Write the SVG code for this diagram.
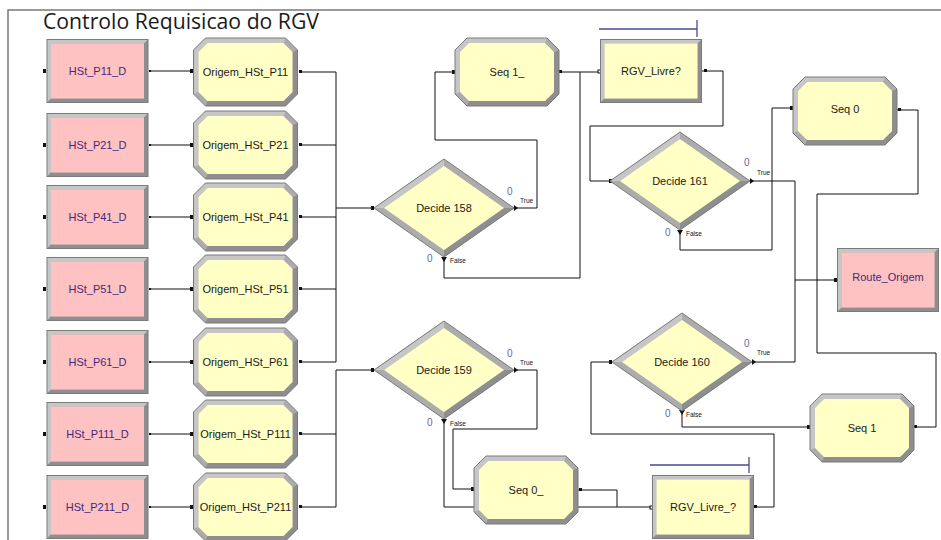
<svg xmlns="http://www.w3.org/2000/svg" xmlns:xlink="http://www.w3.org/1999/xlink" width="941" height="540" viewBox="0 0 941 540">
<style>
.mid{fill:#acacac}
.lite{fill:#c6c6c6}
.dark{fill:#8e8e8e}
.edge{fill:none;stroke:#7a7a7a;stroke-width:1}
.pink{fill:#ffc2c2}
.yel{fill:#ffffc6}
.lbl{font-family:"Liberation Sans",Arial,sans-serif;font-size:11px;text-anchor:middle;fill:#1a1a1a}
.plbl{font-family:"Liberation Sans",Arial,sans-serif;font-size:11px;text-anchor:middle;fill:#3f2a7a}
.cnt{font-family:"Liberation Sans",Arial,sans-serif;font-size:10px;fill:#6a6aa8}
.tf{font-family:"Liberation Sans",Arial,sans-serif;font-size:6.5px;fill:#111}
.wire{fill:none;stroke:#111;stroke-width:1}
.pt{fill:#111}
.hpt{fill:#fff;stroke:#111;stroke-width:1}
.bar{fill:none;stroke:#4a4a9a;stroke-width:1.3}
.frame{fill:none;stroke:#7a7a7a;stroke-width:1.5}
</style>
<defs>
<g id="octBev">
<polygon class="mid" points="-40,-34 40,-34 52,-22 52,22 40,34 -40,34 -52,22 -52,-22"/>
<polygon class="lite" points="-52,22 -52,-22 -40,-34 40,-34 38,-29 -38,-29 -47,-20 -47,20"/>
<polygon class="dark" points="52,-22 52,22 40,34 -40,34 -38,29 38,29 47,20 47,-20"/>
<polygon class="edge" points="-40,-34 40,-34 52,-22 52,22 40,34 -40,34 -52,22 -52,-22"/>
</g>
<polygon id="octI" points="-38,-29 38,-29 47,-20 47,20 38,29 -38,29 -47,20 -47,-20"/>
<g id="recBev">
<rect class="mid" x="-50.5" y="-31.5" width="101" height="63"/>
<polygon class="lite" points="-50.5,31.5 -50.5,-31.5 50.5,-31.5 46.5,-27.5 -46.5,-27.5 -46.5,27.5"/>
<polygon class="dark" points="50.5,-31.5 50.5,31.5 -50.5,31.5 -46.5,27.5 46.5,27.5 46.5,-27.5"/>
<rect class="edge" x="-50.5" y="-31.5" width="101" height="63"/>
</g>
<rect id="recI" x="-46.5" y="-27.5" width="93" height="55"/>
<g id="diaBev">
<polygon class="mid" points="0,-49 70,0 0,49 -70,0"/>
<polygon class="lite" points="-70,0 0,-49 0,-42 -60,0"/>
<polygon class="dark" points="70,0 0,49 0,42 60,0"/>
<polygon class="edge" points="0,-49 70,0 0,49 -70,0"/>
</g>
<polygon id="diaI" points="0,-42 60,0 0,42 -60,0"/>
</defs>
<rect x="0" y="0" width="941" height="540" fill="#ffffff"/>
<path class="frame" d="M8,540 V10 H941"/>
<text x="43" y="29" font-family="'Open Sans','Noto Sans',sans-serif" font-size="22" fill="#1a1a1a" textLength="276" lengthAdjust="spacingAndGlyphs">Controlo Requisicao do RGV</text>

<g id="connectors">
<path class="wire" d="M150,71H192 M150,145H192 M150,217H192 M150,289H192 M150,362H192 M150,434H192 M150,507H192"/>
<path class="wire" d="M299,72H336 M299,145H336 M299,217H336 M299,289H336 M299,362H336 M336,72V362 M336,208H373"/>
<path class="wire" d="M299,434H336 M299,507H336 M336,370V507 M336,370H373"/>
<path class="wire" d="M514,208H537V140H435V72H455"/>
<path class="wire" d="M444,257V278H580V72"/>
<path class="wire" d="M559,72H600"/>
<path class="wire" d="M702,71H723V126H590V181H610"/>
<path class="wire" d="M750,181H795V362H752 M795,280H836"/>
<path class="wire" d="M680,230V250H772V108H793"/>
<path class="wire" d="M897,110H918V194H817V353H936V427H914"/>
<path class="wire" d="M682,411V427H810"/>
<path class="wire" d="M612,362H591V434H774V507H753"/>
<path class="wire" d="M514,370H537V429H453V489H474"/>
<path class="wire" d="M444,419V507H652"/>
<path class="wire" d="M578,490H617V507"/>
<g class="pt">
<rect x="43" y="69" width="3" height="4"/><rect x="43" y="143" width="3" height="4"/><rect x="43" y="215" width="3" height="4"/><rect x="43" y="287" width="3" height="4"/><rect x="43" y="360" width="3" height="4"/><rect x="43" y="432" width="3" height="4"/><rect x="43" y="505" width="3" height="4"/>
<rect x="149" y="70" width="2" height="2"/><rect x="149" y="144" width="2" height="2"/><rect x="149" y="216" width="2" height="2"/><rect x="149" y="288" width="2" height="2"/><rect x="149" y="361" width="2" height="2"/><rect x="149" y="433" width="2" height="2"/><rect x="149" y="506" width="2" height="2"/>
<rect x="190" y="69" width="3" height="4"/><rect x="190" y="143" width="3" height="4"/><rect x="190" y="215" width="3" height="4"/><rect x="190" y="287" width="3" height="4"/><rect x="190" y="360" width="3" height="4"/><rect x="190" y="432" width="3" height="4"/><rect x="190" y="505" width="3" height="4"/>
<rect x="299" y="70" width="3" height="3"/><rect x="299" y="143" width="3" height="3"/><rect x="299" y="215" width="3" height="3"/><rect x="299" y="287" width="3" height="3"/><rect x="299" y="360" width="3" height="3"/><rect x="299" y="432" width="3" height="3"/><rect x="299" y="505" width="3" height="3"/>
<rect x="371" y="206" width="3" height="4"/><rect x="371" y="368" width="3" height="4"/>
<rect x="452" y="70" width="3" height="4"/><rect x="559" y="70" width="3" height="3"/>
<rect x="704" y="69" width="3" height="3"/>
<rect x="609" y="179" width="3" height="4"/><rect x="609" y="360" width="3" height="4"/>
<rect x="790" y="106" width="3" height="4"/><rect x="898" y="108" width="3" height="3"/>
<rect x="834" y="278" width="3" height="4"/>
<rect x="807" y="425" width="4" height="4"/><rect x="914" y="425" width="3" height="3"/>
<rect x="471" y="487" width="3" height="4"/><rect x="579" y="488" width="3" height="3"/>
<rect x="754" y="505" width="3" height="3"/>
<polygon points="514,205 518,208 514,211"/><polygon points="514,367 518,370 514,373"/>
<polygon points="750,178 754,181 750,184"/><polygon points="752,359 756,362 752,365"/>
<polygon points="441,257 447,257 444,262"/><polygon points="441,419 447,419 444,424"/>
<polygon points="677,230 683,230 680,235"/><polygon points="679,410 685,410 682,415"/>
</g>
<rect class="hpt" x="598" y="70" width="3" height="3"/>
<rect class="hpt" x="650" y="506" width="3" height="3"/>
</g>

<g id="HSt_P11_D" transform="translate(97.5,71)"><use href="#recBev"/><use href="#recI" class="pink"/><text class="plbl" y="4">HSt_P11_D</text></g>
<g id="HSt_P21_D" transform="translate(97.5,145)"><use href="#recBev"/><use href="#recI" class="pink"/><text class="plbl" y="4">HSt_P21_D</text></g>
<g id="HSt_P41_D" transform="translate(97.5,217)"><use href="#recBev"/><use href="#recI" class="pink"/><text class="plbl" y="4">HSt_P41_D</text></g>
<g id="HSt_P51_D" transform="translate(97.5,289)"><use href="#recBev"/><use href="#recI" class="pink"/><text class="plbl" y="4">HSt_P51_D</text></g>
<g id="HSt_P61_D" transform="translate(97.5,362)"><use href="#recBev"/><use href="#recI" class="pink"/><text class="plbl" y="4">HSt_P61_D</text></g>
<g id="HSt_P111_D" transform="translate(97.5,434)"><use href="#recBev"/><use href="#recI" class="pink"/><text class="plbl" y="4">HSt_P111_D</text></g>
<g id="HSt_P211_D" transform="translate(97.5,507)"><use href="#recBev"/><use href="#recI" class="pink"/><text class="plbl" y="4">HSt_P211_D</text></g>

<g id="Origem_HSt_P11" transform="translate(245.5,72)"><use href="#octBev"/><use href="#octI" class="yel"/><text class="lbl" y="4">Origem_HSt_P11</text></g>
<g id="Origem_HSt_P21" transform="translate(245.5,145)"><use href="#octBev"/><use href="#octI" class="yel"/><text class="lbl" y="4">Origem_HSt_P21</text></g>
<g id="Origem_HSt_P41" transform="translate(245.5,217)"><use href="#octBev"/><use href="#octI" class="yel"/><text class="lbl" y="4">Origem_HSt_P41</text></g>
<g id="Origem_HSt_P51" transform="translate(245.5,289)"><use href="#octBev"/><use href="#octI" class="yel"/><text class="lbl" y="4">Origem_HSt_P51</text></g>
<g id="Origem_HSt_P61" transform="translate(245.5,362)"><use href="#octBev"/><use href="#octI" class="yel"/><text class="lbl" y="4">Origem_HSt_P61</text></g>
<g id="Origem_HSt_P111" transform="translate(245.5,434)"><use href="#octBev"/><use href="#octI" class="yel"/><text class="lbl" y="4">Origem_HSt_P111</text></g>
<g id="Origem_HSt_P211" transform="translate(245.5,507)"><use href="#octBev"/><use href="#octI" class="yel"/><text class="lbl" y="4">Origem_HSt_P211</text></g>

<g id="Decide_158" transform="translate(444,208)"><use href="#diaBev"/><use href="#diaI" class="yel"/><text class="lbl" y="4">Decide 158</text>
<text class="cnt" x="63" y="-13">0</text><text class="tf" x="76" y="-5">True</text><text class="cnt" x="-17" y="54">0</text><text class="tf" x="6" y="55">False</text></g>
<g id="Decide_159" transform="translate(444,370)"><use href="#diaBev"/><use href="#diaI" class="yel"/><text class="lbl" y="4">Decide 159</text>
<text class="cnt" x="63" y="-13">0</text><text class="tf" x="76" y="-5">True</text><text class="cnt" x="-17" y="56">0</text><text class="tf" x="6" y="56">False</text></g>
<g id="Decide_161" transform="translate(680,181)"><use href="#diaBev"/><use href="#diaI" class="yel"/><text class="lbl" y="4">Decide 161</text>
<text class="cnt" x="64" y="-15">0</text><text class="tf" x="77" y="-6">True</text><text class="cnt" x="-15" y="55">0</text><text class="tf" x="6" y="55">False</text></g>
<g id="Decide_160" transform="translate(682,362)"><use href="#diaBev"/><use href="#diaI" class="yel"/><text class="lbl" y="4">Decide 160</text>
<text class="cnt" x="62" y="-15">0</text><text class="tf" x="75" y="-7">True</text><text class="cnt" x="-17" y="55">0</text><text class="tf" x="4" y="55">False</text></g>

<g id="Seq_1_" transform="translate(507,72)"><use href="#octBev"/><use href="#octI" class="yel"/><text class="lbl" y="4">Seq 1_</text></g>
<g id="Seq_0" transform="translate(845,111)"><use href="#octBev"/><use href="#octI" class="yel"/><text class="lbl" y="2">Seq 0</text></g>
<g id="Seq_1" transform="translate(862,428)"><use href="#octBev"/><use href="#octI" class="yel"/><text class="lbl" y="4">Seq 1</text></g>
<g id="Seq_0_" transform="translate(526,490)"><use href="#octBev"/><use href="#octI" class="yel"/><text class="lbl" y="4">Seq 0_</text></g>

<g id="RGV_Livre" transform="translate(651,71)"><path class="bar" d="M-52,-42H46 M46,-51V-34"/><use href="#recBev"/><use href="#recI" class="yel"/><text class="lbl" y="4">RGV_Livre?</text></g>
<g id="RGV_Livre_" transform="translate(703,507)"><path class="bar" d="M-53,-42H46 M46,-50V-34"/><use href="#recBev"/><use href="#recI" class="yel"/><text class="lbl" y="4">RGV_Livre_?</text></g>
<g id="Route_Origem" transform="translate(888,280)"><use href="#recBev"/><use href="#recI" class="pink"/><text class="plbl" y="1">Route_Origem</text></g>
</svg>
